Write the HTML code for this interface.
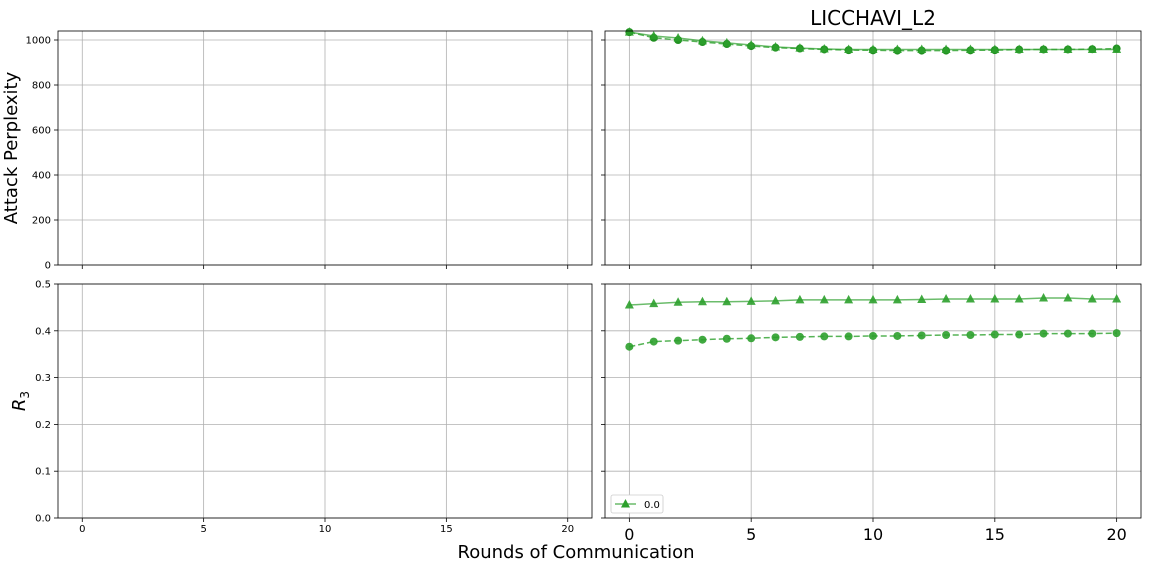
<!DOCTYPE html>
<html><head><meta charset="utf-8"><style>
body{margin:0;background:#fff;}
svg{display:block;font-family:"DejaVu Sans","Liberation Sans",sans-serif;}
</style></head><body>
<svg id="fig" width="1152" height="576" viewBox="0 0 1152 576"></svg>
<script>
const rounds=[0,1,2,3,4,5,6,7,8,9,10,11,12,13,14,15,16,17,18,19,20];
const pplTri=[1035,1018,1009,996,987,978,969,964,960,958,958,958,958,958,958,958,958,958,958,958,958];
const pplCirc=[1035,1010,1000,991,982,973,966,962,958,955,954,953,953,953,954,955,957,958,958,959,962];
const r3Tri=[0.455,0.458,0.461,0.462,0.462,0.463,0.464,0.466,0.466,0.466,0.466,0.466,0.467,0.468,0.468,0.468,0.468,0.470,0.470,0.468,0.468];
const r3Circ=[0.366,0.377,0.379,0.381,0.383,0.384,0.386,0.387,0.388,0.388,0.389,0.389,0.390,0.391,0.391,0.392,0.392,0.394,0.394,0.394,0.395];
const xTicks=[0,5,10,15,20];
const pplTicks=[0,200,400,600,800,1000];
const r3Ticks=[0,0.1,0.2,0.3,0.4,0.5];
const r3TickLabels=["0.0","0.1","0.2","0.3","0.4","0.5"];

const NS="http://www.w3.org/2000/svg";
const svg=document.getElementById('fig');
function mk(tag,attrs,parent){const e=document.createElementNS(NS,tag);for(const k in attrs)e.setAttribute(k,attrs[k]);(parent||svg).appendChild(e);return e;}
function txt(s,attrs,parent){const e=mk('text',attrs,parent);e.textContent=s;return e;}

const panels=[
 {x0:58,x1:592,y0:31,y1:265,ymin:0,ymax:1040,ticks:pplTicks,labels:pplTicks.map(String),xlab:false,xfs:0,name:'ppl-left'},
 {x0:605,x1:1141,y0:31,y1:265,ymin:0,ymax:1040,ticks:pplTicks,labels:null,xlab:false,name:'ppl-right',series:[pplTri,pplCirc]},
 {x0:58,x1:592,y0:284,y1:518,ymin:0,ymax:0.5,ticks:r3Ticks,labels:r3TickLabels,xlab:true,xfs:10,name:'r3-left'},
 {x0:605,x1:1141,y0:284,y1:518,ymin:0,ymax:0.5,ticks:r3Ticks,labels:null,xlab:true,xfs:16,name:'r3-right',series:[r3Tri,r3Circ],legend:true},
];
panels.forEach(p=>{
 const g=mk('g',{});
 
 
 const sx=v=>p.x0+(v+1)/22*(p.x1-p.x0);
 const sy=v=>p.y1-(v-p.ymin)/(p.ymax-p.ymin)*(p.y1-p.y0);
 xTicks.forEach(t=>{
  mk('line',{x1:sx(t),x2:sx(t),y1:p.y0,y2:p.y1,stroke:'#b0b0b0','stroke-width':0.8},g);
  mk('line',{x1:sx(t),x2:sx(t),y1:p.y1,y2:p.y1+4,stroke:'#000','stroke-width':0.8},g);
  if(p.xlab){const l=txt(String(t),{x:sx(t),y:p.y1+(p.xfs>10?22:14),'font-size':p.xfs,'text-anchor':'middle'},g);
   }
 });
 p.ticks.forEach((t,i)=>{
  mk('line',{x1:p.x0,x2:p.x1,y1:sy(t),y2:sy(t),stroke:'#b0b0b0','stroke-width':0.8},g);
  mk('line',{x1:p.x0-4,x2:p.x0,y1:sy(t),y2:sy(t),stroke:'#000','stroke-width':0.8},g);
  if(p.labels){const l=txt(p.labels[i],{x:p.x0-7,y:sy(t)+3.5,'font-size':10,'text-anchor':'end'},g);
   }
 });
 if(p.series){
  const [tri,circ]=p.series;
  const pc=mk('polyline',{points:rounds.map((r,i)=>sx(r)+','+sy(circ[i])).join(' '),fill:'none',stroke:'#2ca02c','stroke-opacity':0.8,'stroke-width':1.5,'stroke-dasharray':'6,3'},g);
  
  rounds.forEach((r,i)=>{const c=mk('circle',{cx:sx(r),cy:sy(circ[i]),r:4,fill:p.name==='ppl-right'?'#0a850a':'#2ca02c','fill-opacity':0.9},g);
   });
  const pt=mk('polyline',{points:rounds.map((r,i)=>sx(r)+','+sy(tri[i])).join(' '),fill:'none',stroke:'#2ca02c','stroke-opacity':0.7,'stroke-width':1.5},g);
  
  rounds.forEach((r,i)=>{const x=sx(r),y=sy(tri[i]);const m=mk('polygon',{points:`${x},${y-5} ${x-4.5},${y+3.5} ${x+4.5},${y+3.5}`,fill:'#2ca02c','fill-opacity':0.9},g);
   });
 }
 mk('rect',{x:p.x0,y:p.y0,width:p.x1-p.x0,height:p.y1-p.y0,fill:'none',stroke:'#000','stroke-width':0.8},g);
 if(p.legend){
  const lg=mk('g',{},g);
  
  mk('rect',{x:611,y:495,width:52,height:18,rx:2,fill:'#fff',stroke:'#ccc','stroke-width':0.8},lg);
  mk('line',{x1:615,x2:636,y1:504,y2:504,stroke:'#2ca02c','stroke-opacity':0.7,'stroke-width':1.5},lg);
  mk('polygon',{points:'625.5,499 621,507.5 630,507.5',fill:'#2ca02c'},lg);
  txt('0.0',{x:644,y:508,'font-size':10},lg);
 }
});
const t=txt('LICCHAVI_L2',{x:873,y:25,'font-size':20,'text-anchor':'middle'});

const yl=txt('Attack Perplexity',{x:0,y:0,'font-size':18,'text-anchor':'middle',transform:'translate(17,148) rotate(-90)'});

const yl2=mk('text',{x:0,y:0,'font-size':18,'text-anchor':'middle',transform:'translate(25,401) rotate(-90)','font-style':'italic'});
yl2.innerHTML='R<tspan font-size="12" dy="4" font-style="normal">3</tspan>';

const xl=txt('Rounds of Communication',{x:576,y:558,'font-size':18,'text-anchor':'middle'});

</script>
</body></html>
